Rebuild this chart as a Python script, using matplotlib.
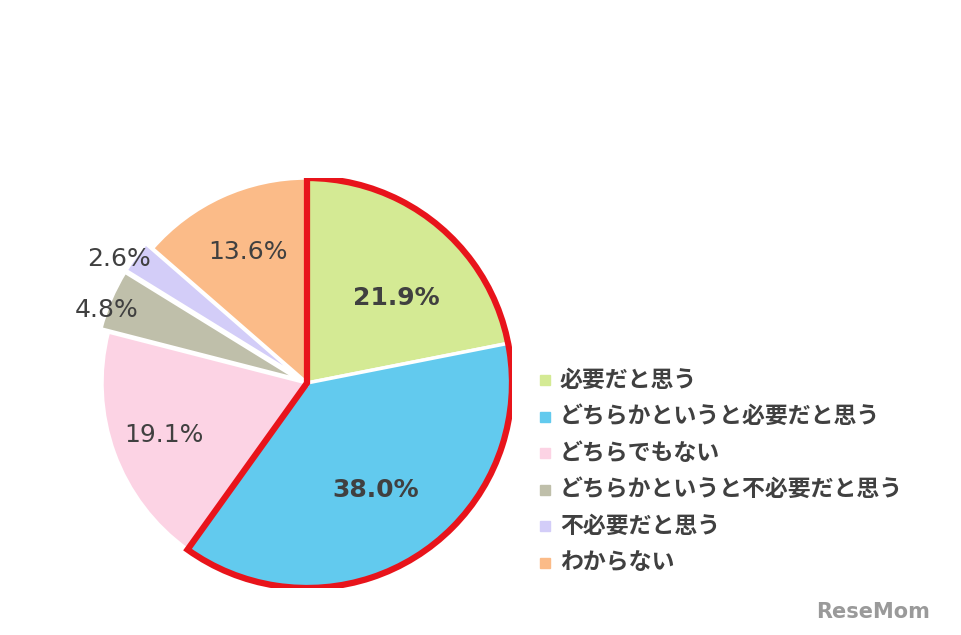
import matplotlib
matplotlib.use("Agg")
import matplotlib.pyplot as plt
from matplotlib.patches import Wedge
import numpy as np

plt.rcParams["font.family"] = ["Noto Sans CJK JP", "DejaVu Sans"]

labels = ["必要だと思う", "どちらかというと必要だと思う", "どちらでもない",
          "どちらかというと不必要だと思う", "不必要だと思う", "わからない"]
values = [21.9, 38.0, 19.1, 4.8, 2.6, 13.6]
colors = ["#d4ea94", "#62caee", "#fcd3e4", "#bfbfaa", "#d3cdf8", "#fbbb88"]
explode = [0, 0, 0, 0.04, 0.04, 0]
label_r = [0.6, 0.62, 0.74, 1.04, 1.1, 0.7]
label_shift = [-7, 0, 0, 3, 3, 0]  # degrees
bold = [True, True, False, False, False, False]

W, H = 962, 635
fig = plt.figure(figsize=(W / 100, H / 100), dpi=100)
cx, cy, r = 307, 383, 205
ax = fig.add_axes([(cx - r) / W, (H - cy - r) / H, 2 * r / W, 2 * r / H])
wedges, _ = ax.pie(values, colors=colors, startangle=90, counterclock=False,
                   explode=explode, radius=1,
                   wedgeprops=dict(edgecolor="white", linewidth=2.5))

# red outline around the first two slices
start = 90
end = 90 - (values[0] + values[1]) / sum(values) * 360
ax.add_patch(Wedge((0, 0), 1, end, start, fill=False, edgecolor="#e8141b",
                   linewidth=4.5, joinstyle="miter", zorder=5))

cum = 0
for v, lr, b, sh in zip(values, label_r, bold, label_shift):
    mid = np.deg2rad(90 - (cum + v / 2) / sum(values) * 360 + sh)
    cum += v
    ax.text(lr * np.cos(mid), lr * np.sin(mid), f"{v:.1f}%", ha="center",
            va="center", fontsize=18, color="#404040", family="DejaVu Sans",
            fontweight="bold" if b else "normal")
ax.set_xlim(-1, 1)
ax.set_ylim(-1, 1)
ax.set_aspect("equal")
ax.axis("off")

for i, (lab, c) in enumerate(zip(labels, colors)):
    y = 1 - (380 + i * 36.5) / H
    fig.patches.append(plt.Rectangle((540 / W, y - 5 / H), 10 / W, 10 / H,
                                     transform=fig.transFigure, color=c))
    fig.text(560 / W, y, lab, fontsize=16.5, fontweight="bold", color="#404040",
             va="center")

fig.text(930 / W, 1 - 612 / H, "ReseMom", fontsize=15, fontweight="bold",
         color="#9a9a9a", ha="right", va="center", family="DejaVu Sans")

fig.savefig("out.png", dpi=100)
